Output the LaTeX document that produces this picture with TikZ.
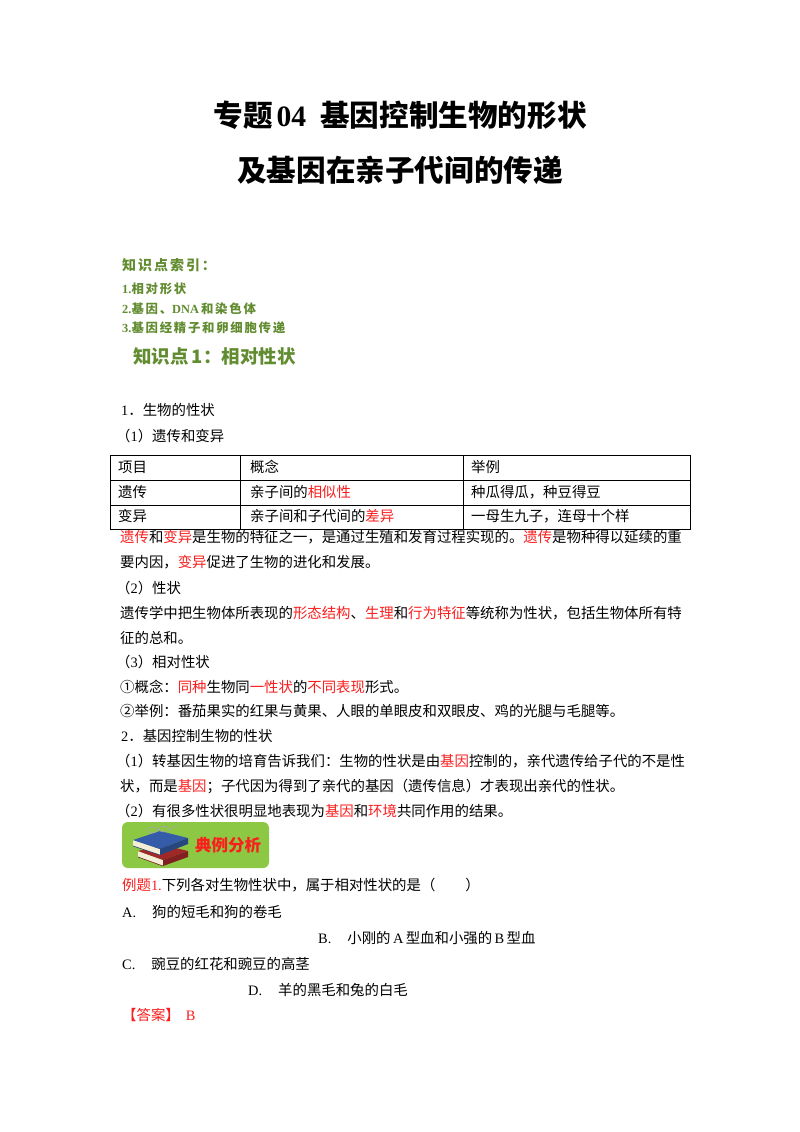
\documentclass[tikz,border=0pt]{standalone}
\usepackage{fontspec}
\setmainfont{Noto Sans CJK SC}
\newfontfamily\lat{Liberation Serif}
\newfontfamily\idxfont{Noto Sans CJK SC}[LetterSpace=14]
\definecolor{rd}{RGB}{250,30,30}
\definecolor{gtitle}{RGB}{98,140,48}
\definecolor{badge}{RGB}{141,200,68}
\definecolor{bookblue}{RGB}{52,92,168}
\definecolor{bookred}{RGB}{160,40,40}
\definecolor{pagecol}{RGB}{245,238,215}
\newcommand{\bodyfs}{\fontsize{14.4}{16}\selectfont}
\newcommand{\Rd}[1]{\textcolor{rd}{#1}}
\newcommand{\Lt}[1]{{\lat #1}}
\begin{document}
\begin{tikzpicture}[x=1pt,y=-1pt,
  txt/.style={anchor=west,inner sep=0pt,font=\bodyfs},
  title/.style={anchor=center,inner sep=0pt,font=\fontsize{29.6}{31}\selectfont\bfseries},
  idx/.style={anchor=west,inner sep=0pt,text=gtitle,font=\idxfont\fontsize{12.4}{13}\selectfont\bfseries},
  cell/.style={draw=black,line width=0.7pt}]
\useasboundingbox (0,0) rectangle (800,1132);
\fill[white] (0,0) rectangle (800,1132);
% title
\node[title] (t1) at (400,115) {专题\hspace{4pt}\Lt{\bfseries 04}\hspace{14pt}基因控制生物的形状};
\node[title] (t2) at (400,170) {及基因在亲子代间的传递};
% index
\node[idx,font=\idxfont\fontsize{14}{15}\selectfont\bfseries] (i0) at (122,265) {知识点索引：};
\node[idx] (i1) at (122,289) {\Lt{\bfseries 1.}相对形状};
\node[idx] (i2) at (122,309) {\Lt{\bfseries 2.}基因、\Lt{\bfseries DNA\,}和染色体};
\node[idx] (i3) at (122,328) {\Lt{\bfseries 3.}基因经精子和卵细胞传递};
\node[anchor=west,inner sep=0pt,text=gtitle,font=\fontsize{18.5}{20}\selectfont\bfseries] (k1) at (133,356) {知识点\,1：相对性状};
% section 1
\node[txt] (s1) at (121,410) {\Lt{1}．生物的性状};
\node[txt] (s11) at (116,436) {（\Lt{1}）遗传和变异};
% table
\draw[cell] (110,455) rectangle (690,529);
\draw[cell] (110,480) -- (690,480);
\draw[cell] (110,505) -- (690,505);
\draw[cell] (240,455) -- (240,529);
\draw[cell] (463,455) -- (463,529);
\node[txt] (c11) at (118,467) {项目};
\node[txt] (c12) at (250,467) {概念};
\node[txt] (c13) at (471,467) {举例};
\node[txt] (c21) at (118,492) {遗传};
\node[txt] (c22) at (250,492) {亲子间的\Rd{相似性}};
\node[txt] (c23) at (471,492) {种瓜得瓜，种豆得豆};
\node[txt] (c31) at (118,516) {变异};
\node[txt] (c32) at (250,516) {亲子间和子代间的\Rd{差异}};
\node[txt] (c33) at (471,516) {一母生九子，连母十个样};
% paragraphs
\node[txt] (p1) at (120,537) {\Rd{遗传}和\Rd{变异}是生物的特征之一，是通过生殖和发育过程实现的。\Rd{遗传}是物种得以延续的重};
\node[txt] (p2) at (120,562) {要内因，\Rd{变异}促进了生物的进化和发展。};
\node[txt] (p3) at (116,588) {（\Lt{2}）性状};
\node[txt] (p4) at (120,613) {遗传学中把生物体所表现的\Rd{形态结构}、\Rd{生理}和\Rd{行为特征}等统称为性状，包括生物体所有特};
\node[txt] (p5) at (120,638) {征的总和。};
\node[txt] (p6) at (116,662) {（\Lt{3}）相对性状};
\node[txt] (p7) at (120,687) {①概念：\Rd{同种}生物同\Rd{一性状}的\Rd{不同表现}形式。};
\node[txt] (p8) at (120,711) {②举例：番茄果实的红果与黄果、人眼的单眼皮和双眼皮、鸡的光腿与毛腿等。};
\node[txt] (p9) at (121,736) {\Lt{2}．基因控制生物的性状};
\node[txt] (p10) at (116,761) {（\Lt{1}）转基因生物的培育告诉我们：生物的性状是由\Rd{基因}控制的，亲代遗传给子代的不是性};
\node[txt] (p11) at (120,786) {状，而是\Rd{基因}；子代因为得到了亲代的基因（遗传信息）才表现出亲代的性状。};
\node[txt] (p12) at (116,811) {（\Lt{2}）有很多性状很明显地表现为\Rd{基因}和\Rd{环境}共同作用的结果。};
% badge
\node[fill=badge,rounded corners=6pt,minimum width=147pt,minimum height=46pt,inner sep=0pt] (bd) at (195.5,845) {};
% books
\fill[pagecol] (138,851) -- (163,860) -- (163,866) -- (138,857) -- cycle;
\fill[bookred] (138,851) -- (163,845) -- (188,851) -- (163,860) -- cycle;
\fill[bookred!80!black] (163,860) -- (188,851) -- (188,857) -- (163,866) -- cycle;
\draw[bookred!70!black,line width=0.6pt] (138,857) -- (163,866);
\fill[pagecol] (133,840) -- (160,849) -- (160,855) -- (133,846) -- cycle;
\fill[bookblue] (133,840) -- (160,831) -- (188,838) -- (160,849) -- cycle;
\fill[bookblue!75!black] (160,849) -- (188,838) -- (188,844) -- (160,855) -- cycle;
\draw[bookblue!60!black,line width=0.6pt] (133,846) -- (160,855);
\draw[gray!70,line width=0.6pt] (152,830) ellipse (5pt and 3pt) (164,829) ellipse (5pt and 3pt);
\draw[gray!70,line width=0.6pt] (157,830) -- (159,829) (169,829) -- (178,826);
\node[anchor=center,inner sep=0pt,text=rd,font=\fontsize{16.5}{18}\selectfont\bfseries] (bt) at (228,845) {典例分析};
% example
\node[txt] (e0) at (122,885) {\Rd{例题\Lt{1.}}下列各对生物性状中，属于相对性状的是（\hspace{30pt}）};
\node[txt] (ea) at (122,912) {\Lt{A.}\hspace{16pt}狗的短毛和狗的卷毛};
\node[txt] (eb) at (318,938) {\Lt{B.}\hspace{16pt}小刚的\Lt{\,A\,}型血和小强的\Lt{\,B\,}型血};
\node[txt] (ec) at (122,964) {\Lt{C.}\hspace{16pt}豌豆的红花和豌豆的高茎};
\node[txt] (ed) at (248,990) {\Lt{D.}\hspace{16pt}羊的黑毛和兔的白毛};
\node[txt,text=rd] (ans) at (122,1015) {【答案】\hspace{6pt}\Lt{B}};
\end{tikzpicture}
\end{document}
